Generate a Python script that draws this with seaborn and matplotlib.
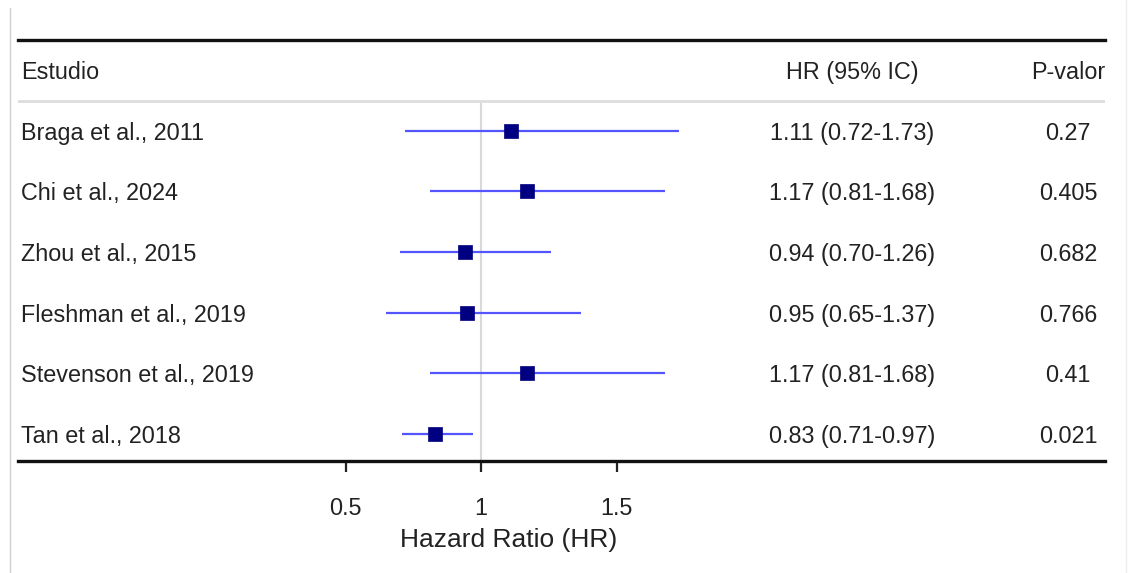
import matplotlib
matplotlib.use('Agg')
import matplotlib.pyplot as plt
import matplotlib.transforms as mtransforms
import seaborn as sns
import pandas as pd

# Dados do forest plot
estudos = ['Braga et al., 2011', 'Chi et al., 2024', 'Zhou et al., 2015',
           'Fleshman et al., 2019', 'Stevenson et al., 2019', 'Tan et al., 2018']
hr = [1.11, 1.17, 0.94, 0.95, 1.17, 0.83]
ic_inf = [0.72, 0.81, 0.70, 0.65, 0.81, 0.71]
ic_sup = [1.73, 1.68, 1.26, 1.37, 1.68, 0.97]
hr_texto = ['1.11 (0.72-1.73)', '1.17 (0.81-1.68)', '0.94 (0.70-1.26)',
            '0.95 (0.65-1.37)', '1.17 (0.81-1.68)', '0.83 (0.71-0.97)']
p_valor = ['0.27', '0.405', '0.682', '0.766', '0.41', '0.021']
ticks = [0.5, 1, 1.5]

df = pd.DataFrame({'estudo': estudos, 'hr': hr, 'inf': ic_inf, 'sup': ic_sup,
                   'linha': range(len(estudos))})

sns.set_style('white')
plt.rcParams['font.family'] = ['Liberation Sans', 'DejaVu Sans']

W, H = 1128, 573
fig = plt.figure(figsize=(W / 100, H / 100), dpi=100)

# eixo principal: de x=18 a 1105 px, y=40 a 461 px
x0, x1, y0, y1 = 18, 1105, 40, 461
ax = fig.add_axes([x0 / W, 1 - y1 / H, (x1 - x0) / W, (y1 - y0) / H])
escala = 271.0
ax.set_xlim(1 - (481 - x0) / escala, 1 + (x1 - 481) / escala)
ax.set_ylim(5.45, -1.5)

cor_txt = '#222222'

# linha de referência em HR = 1
ax.vlines(1, -0.5, 5.45, color='#d9d9d9', lw=1.5, zorder=1)
# separador do cabeçalho
ax.axhline(-0.5, color='#dddddd', lw=2, zorder=1)

# intervalos de confiança
ax.hlines(df['linha'], df['inf'], df['sup'], color='#5555ff', lw=1.6, zorder=2)
sns.scatterplot(data=df, x='hr', y='linha', marker='s', s=90, color='#000080',
                edgecolor='#000080', linewidth=0.5, ax=ax, zorder=3, legend=False)

# colunas de texto
trans = mtransforms.blended_transform_factory(fig.transFigure, ax.transData)
fs = 16.8
dy = 0.04
ax.text(21 / W, -1 + dy, 'Estudio', transform=trans, ha='left', va='center',
        fontsize=fs, color=cor_txt)
ax.text(852 / W, -1 + dy, 'HR (95% IC)', transform=trans, ha='center', va='center',
        fontsize=fs, color=cor_txt)
ax.text(1068 / W, -1 + dy, 'P-valor', transform=trans, ha='center', va='center',
        fontsize=fs, color=cor_txt)
for i in range(len(estudos)):
    ax.text(21 / W, i + dy, estudos[i], transform=trans, ha='left', va='center',
            fontsize=fs, color=cor_txt)
    ax.text(852 / W, i + dy, hr_texto[i], transform=trans, ha='center', va='center',
            fontsize=fs, color=cor_txt)
    ax.text(1068 / W, i + dy, p_valor[i], transform=trans, ha='center', va='center',
            fontsize=fs, color=cor_txt)

# estilo dos eixos
for s in ['left', 'right']:
    ax.spines[s].set_visible(False)
for s in ['top', 'bottom']:
    ax.spines[s].set_linewidth(2.4)
    ax.spines[s].set_color('#111111')
ax.set_yticks([])
ax.set_xticks(ticks)
ax.set_xticklabels(['0.5', '1', '1.5'])
ax.tick_params(axis='x', direction='out', length=8, width=1.6, color='#222222',
               labelsize=fs, labelcolor=cor_txt, pad=18, bottom=True)
ax.set_xlabel('')
ax.set_ylabel('')
trans_x = mtransforms.blended_transform_factory(ax.transData, fig.transFigure)
ax.text(1.103, 1 - 540 / H, 'Hazard Ratio (HR)', transform=trans_x,
        ha='center', va='center', fontsize=19, color=cor_txt)

# bordas claras da imagem
fig.add_artist(plt.Line2D([10 / W, 10 / W], [0, 1 - 8 / H], color='#d0d0d0', lw=1))
fig.add_artist(plt.Line2D([1126 / W, 1126 / W], [0, 1], color='#eeeeee', lw=1))

fig.savefig('out.png', dpi=100, facecolor='white')
